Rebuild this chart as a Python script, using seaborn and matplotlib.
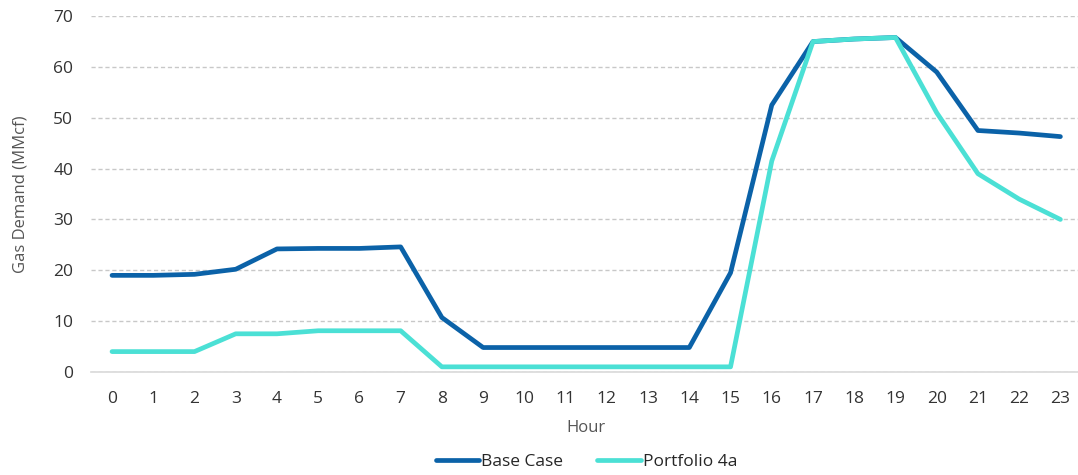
import pandas as pd
import matplotlib
matplotlib.use("Agg")
import matplotlib.pyplot as plt
import seaborn as sns

hours = list(range(24))
base_case = [19.0, 19.0, 19.2, 20.2, 24.2, 24.3, 24.3, 24.6, 10.7, 4.8, 4.8, 4.8,
             4.8, 4.8, 4.8, 19.5, 52.5, 65.0, 65.5, 65.8, 59.0, 47.5, 47.0, 46.3]
portfolio_4a = [4.0, 4.0, 4.0, 7.5, 7.5, 8.1, 8.1, 8.1, 1.0, 1.0, 1.0, 1.0,
                1.0, 1.0, 1.0, 1.0, 41.5, 65.0, 65.5, 65.8, 51.0, 39.0, 34.0, 30.0]
series_names = ["Base Case", "Portfolio 4a"]
colors = ["#0B62A8", "#4BE0D5"]


def main():
    data = pd.concat([
        pd.DataFrame({"Hour": hours, "Demand": base_case, "Series": series_names[0]}),
        pd.DataFrame({"Hour": hours, "Demand": portfolio_4a, "Series": series_names[1]}),
    ])

    sns.set_style("white")
    plt.rcParams["font.family"] = ["Open Sans", "DejaVu Sans"]

    fig = plt.figure(figsize=(10.78, 4.75), dpi=100)
    ax = fig.add_axes([0.0848, 0.217, 0.918, 0.749])

    sns.lineplot(data=data, x="Hour", y="Demand", hue="Series", palette=colors,
                 linewidth=3.4, ax=ax, legend=True)

    ax.set_xlim(-0.5, 23.5)
    ax.set_ylim(0, 70)
    ax.set_xticks(hours)
    ax.set_yticks(range(0, 71, 10))
    ax.tick_params(axis="both", labelsize=12.5, colors="#333333", length=0)
    ax.tick_params(axis="y", pad=13)
    ax.tick_params(axis="x", pad=14)
    ax.yaxis.grid(True, linestyle=(0, (3, 2)), color="#C8C8C8", linewidth=1)
    for side in ["top", "right", "left"]:
        ax.spines[side].set_visible(False)
    ax.spines["bottom"].set_color("#D9D9D9")
    ax.spines["bottom"].set_linewidth(1.2)

    ax.set_xlabel("Hour", fontsize=12, color="#555555", labelpad=9)
    ax.set_ylabel("Gas Demand (MMcf)", fontsize=12, color="#555555", labelpad=18)

    handles, labels = ax.get_legend_handles_labels()
    ax.legend(handles, labels, loc="center", bbox_to_anchor=(0.5, -0.253),
              ncol=2, frameon=False, fontsize=12.5, handlelength=2.5,
              handletextpad=0.1, columnspacing=2.0)

    fig.savefig("out.png", dpi=100)
    plt.close(fig)


if __name__ == "__main__":
    main()
